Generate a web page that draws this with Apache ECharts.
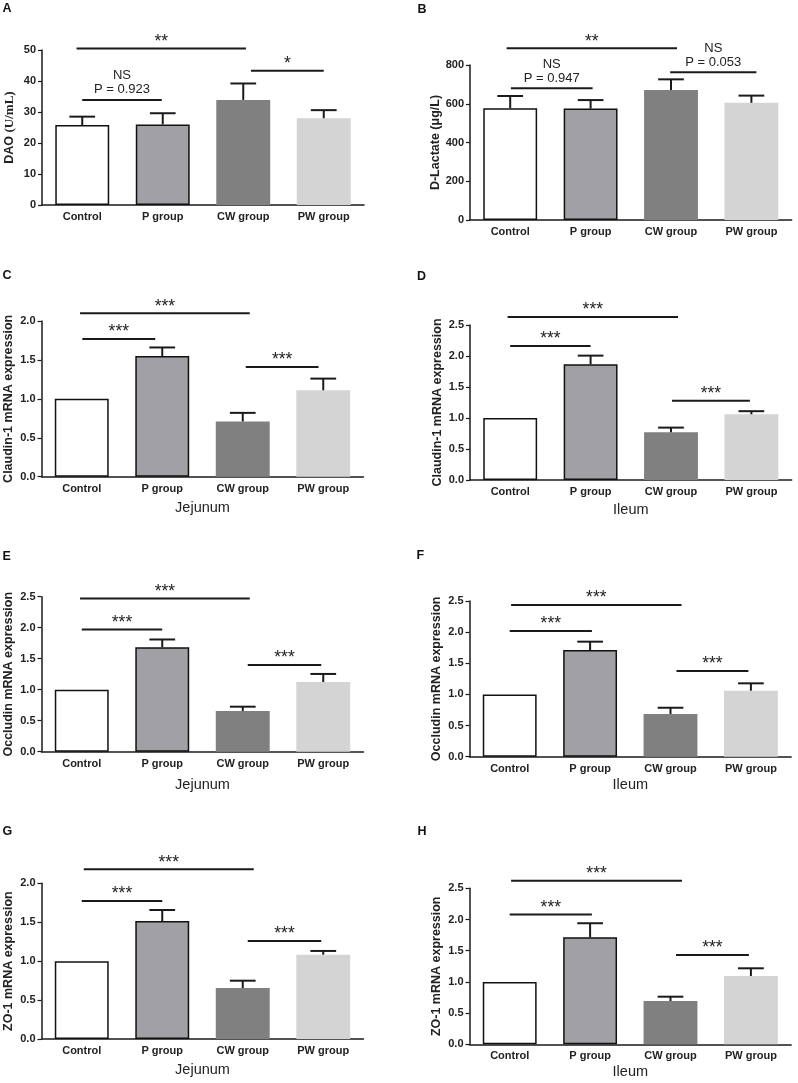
<!DOCTYPE html>
<html><head><meta charset="utf-8">
<script src="https://cdn.jsdelivr.net/npm/echarts@6/dist/echarts.min.js"></script>
<style>html,body{margin:0;padding:0;background:#fff}#c{width:798px;height:1083px}</style>
</head><body><div id="c"></div>
<script>
// ---------- DATA ----------
const categories = ['Control', 'P group', 'CW group', 'PW group'];
const panelLetters = ['A', 'B', 'C', 'D', 'E', 'F', 'G', 'H'];
const yTitles = ['{s|DAO }{t|(U/mL)}', 'D-Lactate (μg/L)', 'Claudin-1 mRNA expression', 'Claudin-1 mRNA expression',
  'Occludin mRNA expression', 'Occludin mRNA expression', 'ZO-1 mRNA expression', 'ZO-1 mRNA expression'];
const xTitles = ['', '', 'Jejunum', 'Ileum', 'Jejunum', 'Ileum', 'Jejunum', 'Ileum'];
const yMax = [50, 800, 2.0, 2.5, 2.5, 2.5, 2.0, 2.5];
const yInterval = [10, 200, 0.5, 0.5, 0.5, 0.5, 0.5, 0.5];
const yDecimals = [0, 0, 1, 1, 1, 1, 1, 1];

const meanA = [25.8, 26.0, 33.9, 28.0];
const semA  = [2.7, 3.6, 5.3, 2.6];
const meanB = [577, 575, 671, 605];
const semB  = [63, 44, 55, 37];
const meanC = [1.0, 1.55, 0.71, 1.11];
const semC  = [0, 0.11, 0.11, 0.15];
const meanD = [1.0, 1.866, 0.77, 1.06];
const semD  = [0, 0.14, 0.075, 0.05];
const meanE = [1.0, 1.684, 0.656, 1.124];
const semE  = [0, 0.126, 0.07, 0.13];
const meanF = [1.0, 1.713, 0.686, 1.06];
const semF  = [0, 0.134, 0.10, 0.118];
const meanG = [1.0, 1.516, 0.655, 1.083];
const semG  = [0, 0.141, 0.094, 0.048];
const meanH = [1.0, 1.715, 0.694, 1.095];
const semH  = [0, 0.225, 0.069, 0.123];

// significance brackets: [from category, to category, y value, label]
const bracketsA = [[0, 2, 50.5, '**'], [2, 3, 43.3, '*'], [0, 1, 33.9, 'NS\nP = 0.923']];
const bracketsB = [[0, 2, 886, '**'], [0, 1, 680, 'NS\nP = 0.947'], [2, 3, 762, 'NS\nP = 0.053']];
const bracketsC = [[0, 2, 2.10, '***'], [0, 1, 1.77, '***'], [2, 3, 1.41, '***']];
const bracketsD = [[0, 2, 2.63, '***'], [0, 1, 2.16, '***'], [2, 3, 1.28, '***']];
const bracketsE = [[0, 2, 2.47, '***'], [0, 1, 1.97, '***'], [2, 3, 1.40, '***']];
const bracketsF = [[0, 2, 2.437, '***'], [0, 1, 2.02, '***'], [2, 3, 1.376, '***']];
const bracketsG = [[0, 2, 2.18, '***'], [0, 1, 1.773, '***'], [2, 3, 1.26, '***']];
const bracketsH = [[0, 2, 2.62, '***'], [0, 1, 2.08, '***'], [2, 3, 1.43, '***']];

const means = [meanA, meanB, meanC, meanD, meanE, meanF, meanG, meanH];
const sems = [semA, semB, semC, semD, semE, semF, semG, semH];
const brackets = [bracketsA, bracketsB, bracketsC, bracketsD, bracketsE, bracketsF, bracketsG, bracketsH];

// ---------- LAYOUT / STYLE ----------
const gridLayout = [
  {left: 42,    top: 50,    width: 322,   height: 155},
  {left: 470,   top: 65,    width: 321.6, height: 155},
  {left: 41.5,  top: 321,   width: 322,   height: 155.7},
  {left: 470,   top: 325,   width: 321.6, height: 155},
  {left: 41.5,  top: 596.7, width: 322,   height: 155},
  {left: 469.5, top: 601,   width: 321.6, height: 155.7},
  {left: 41.5,  top: 883.3, width: 322,   height: 155.7},
  {left: 469.5, top: 888.3, width: 321.6, height: 156}
];
const letterPos = [[2.5, 2], [417.5, 3], [2.5, 269], [417, 270], [2.5, 550], [416.5, 549.5], [2.5, 825.5], [417.5, 825.5]];
const xNameGap = [0, 0, 24, 22, 25.5, 21, 23, 20];
// pixel nudges of bracket ends [left, right]
const bracketNudge = [
  [[-5.7, 2.7], [7.7, 0], [0, -1]],
  [[-3.6, 6], [0.7, 2], [-0.8, 5]],
  [[-1.7, 7], [0.6, -7], [3, -4.7]],
  [[-2.6, 7], [0, 0], [1, -1.5]],
  [[-1.7, 7], [0, 0], [5, -2]],
  [[1.4, 11], [0, 1.8], [6, -2.5]],
  [[2, 11], [0, 0], [5, -2]],
  [[1.4, 11.5], [0, 1.8], [5.5, -2]]
];
const barStyles = [
  {color: '#ffffff', borderColor: '#111', borderWidth: 1.5},
  {color: '#a1a1a5', borderColor: '#111', borderWidth: 1.5},
  {color: '#808080'},
  {color: '#d4d4d4'}
];
const FONT = "'Liberation Sans', Arial, Helvetica, sans-serif";
const INK = '#1a1a1a';

function renderErr(params, api) {
  const i = api.value(0), m = api.value(1), s = api.value(2);
  if (!s) return null;
  const p0 = api.coord([i, m]), p1 = api.coord([i, m + s]);
  const half = api.size([1, 0])[0] * 0.16;
  return {type: 'group', children: [
    {type: 'line', shape: {x1: p0[0], y1: p0[1], x2: p1[0], y2: p1[1]}, style: {stroke: INK, lineWidth: 2}},
    {type: 'line', shape: {x1: p1[0] - half, y1: p1[1], x2: p1[0] + half, y2: p1[1]}, style: {stroke: INK, lineWidth: 2}}
  ]};
}

function makeBracketRender(list, nudges) {
  return function (params, api) {
    const b = list[params.dataIndex];
    const n = nudges[params.dataIndex] || [0, 0];
    const pA = api.coord([b[0], b[2]]), pB = api.coord([b[1], b[2]]);
    const x1 = pA[0] + n[0], x2 = pB[0] + n[1], y = pA[1];
    const isStar = b[3].indexOf('*') >= 0;
    return {type: 'group', children: [
      {type: 'line', shape: {x1: x1, y1: y, x2: x2, y2: y}, style: {stroke: INK, lineWidth: 2}},
      {type: 'text', style: {
        text: b[3], x: (x1 + x2) / 2, y: isStar ? y - 6.5 : y - 3,
        align: 'center', verticalAlign: isStar ? 'middle' : 'bottom',
        fontSize: isStar ? 17.5 : 13, lineHeight: isStar ? 17 : 14,
        fontFamily: FONT, fill: '#222'
      }}
    ]};
  };
}

const option = {
  animation: false,
  backgroundColor: '#ffffff',
  title: panelLetters.map((t, i) => ({
    text: t, left: letterPos[i][0], top: letterPos[i][1], padding: 0,
    textStyle: {fontSize: 12.5, fontWeight: 'bold', color: '#111', fontFamily: FONT}
  })),
  grid: gridLayout.map(g => Object.assign({containLabel: false}, g)),
  xAxis: gridLayout.map((g, i) => ({
    gridIndex: i, type: 'category', data: categories,
    axisLine: {lineStyle: {color: INK, width: 1.5}},
    axisTick: {alignWithLabel: true, length: 4, lineStyle: {color: INK, width: 1.2}},
    axisLabel: {fontWeight: 'bold', fontSize: 11, color: '#222', margin: 6.5, fontFamily: FONT, interval: 0},
    name: xTitles[i], nameLocation: 'middle', nameGap: xNameGap[i],
    nameTextStyle: {fontSize: 14.5, color: '#222', fontFamily: FONT}
  })),
  yAxis: gridLayout.map((g, i) => ({
    gridIndex: i, type: 'value', min: 0, max: yMax[i], interval: yInterval[i],
    splitLine: {show: false},
    axisLine: {show: true, lineStyle: {color: INK, width: 1.5}},
    axisTick: {show: true, length: 4, lineStyle: {color: INK, width: 1.2}},
    axisLabel: {formatter: v => v.toFixed(yDecimals[i]), fontWeight: 'bold', fontSize: 11, color: '#222', margin: 6, fontFamily: FONT},
    name: yTitles[i], nameLocation: 'middle', nameRotate: 90, nameGap: 26,
    nameTextStyle: {fontWeight: 'bold', fontSize: 12.5, color: '#222', fontFamily: FONT,
      rich: {
        s: {fontWeight: 'bold', fontSize: 12.5, color: '#222', fontFamily: FONT},
        t: {fontWeight: 'bold', fontSize: 13, color: '#222', fontFamily: "'Liberation Serif', 'Times New Roman', serif"}
      }}
  })),
  series: []
};

for (let i = 0; i < 8; i++) {
  option.series.push({
    type: 'bar', xAxisIndex: i, yAxisIndex: i, barWidth: '67%',
    data: means[i].map((v, k) => ({value: v, itemStyle: barStyles[k]})),
    z: 2
  });
  option.series.push({
    type: 'custom', xAxisIndex: i, yAxisIndex: i, renderItem: renderErr, clip: false, z: 3,
    encode: {x: 0, y: 1},
    data: means[i].map((v, k) => [k, v, sems[i][k]])
  });
  option.series.push({
    type: 'custom', xAxisIndex: i, yAxisIndex: i, clip: false, z: 4,
    renderItem: makeBracketRender(brackets[i], bracketNudge[i]),
    encode: {x: [0, 1], y: 2},
    data: brackets[i].map(b => [b[0], b[1], b[2]])
  });
}

const chart = echarts.init(document.getElementById('c'), null, {renderer: 'canvas'});
chart.setOption(option);
</script>
</body></html>
